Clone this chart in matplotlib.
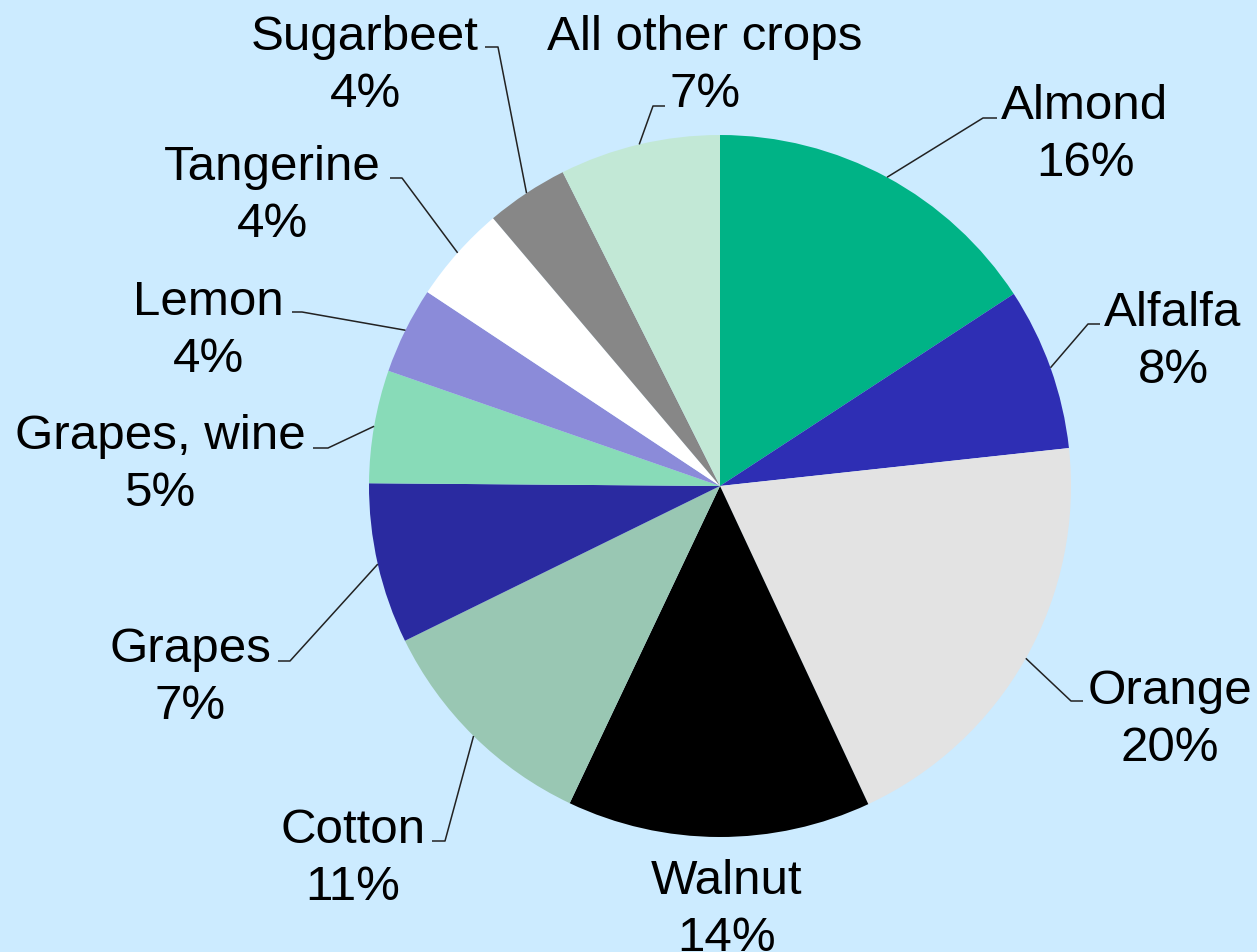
import numpy as np
import matplotlib
matplotlib.use("Agg")
import matplotlib.pyplot as plt

# slice shares (clockwise from 12 o'clock)
crops = ["Almond", "Alfalfa", "Orange", "Walnut", "Cotton", "Grapes",
         "Grapes, wine", "Lemon", "Tangerine", "Sugarbeet", "All other crops"]
shares = [15.8, 7.5, 19.8, 14.0, 10.7, 7.4, 5.2, 4.0, 4.5, 3.8, 7.4]
shown_pct = ["16%", "8%", "20%", "14%", "11%", "7%", "5%", "4%", "4%", "4%", "7%"]
colors = ["#00B386", "#2E2EB4", "#E3E3E3", "#000000", "#99C7B3", "#2A2AA0",
          "#88DBB8", "#8B8BD9", "#FFFFFF", "#878787", "#C2E8D6"]

W, H = 1257, 953
BG = "#CCEBFF"

# label layout in pixel coords (top-left origin): text centre, elbow, end of tick
label_xy = [(1085, 135), (1173, 342), (1170, 720), (727, 910), (353, 859),
            (190, 678), (160, 465), (208, 331), (272, 196), (365, 66), (705, 66)]
elbow_xy = [(983, 119), (1088, 325), (1071, 702), None, (445, 842),
            (290, 662), (328, 449), (302, 313), (402, 179), (498, 48), (653, 107)]
tick_end_x = [997, 1100, 1083, None, 432, 278, 313, 292, 390, 485, 665]

cx, cy, r = 720, 487, 351

fig = plt.figure(figsize=(W / 100, H / 100), dpi=100, facecolor=BG)
ax = fig.add_axes([0, 0, 1, 1])
ax.set_facecolor(BG)

wedges, _ = ax.pie(shares, colors=colors, startangle=90, counterclock=False,
                   center=(cx, H - cy), radius=r,
                   wedgeprops=dict(linewidth=0))
ax.set_xlim(0, W)
ax.set_ylim(0, H)
ax.set_aspect("equal")
ax.axis("off")

for w, name, pct, (tx, ty), elbow, tend in zip(wedges, crops, shown_pct,
                                               label_xy, elbow_xy, tick_end_x):
    ax.text(tx, H - ty, f"{name}\n{pct}", ha="center", va="center",
            fontsize=35.5, family="Liberation Sans", color="black",
            linespacing=1.33)
    if elbow is None:
        continue
    mid = np.deg2rad((w.theta1 + w.theta2) / 2)
    sx = cx + r * np.cos(mid)
    sy = (H - cy) + r * np.sin(mid)
    ex, ey = elbow
    ax.plot([sx, ex, tend], [sy, H - ey, H - ey], color="#222222",
            linewidth=1.1, solid_capstyle="butt")

fig.savefig("out.png", dpi=100, facecolor=BG)
